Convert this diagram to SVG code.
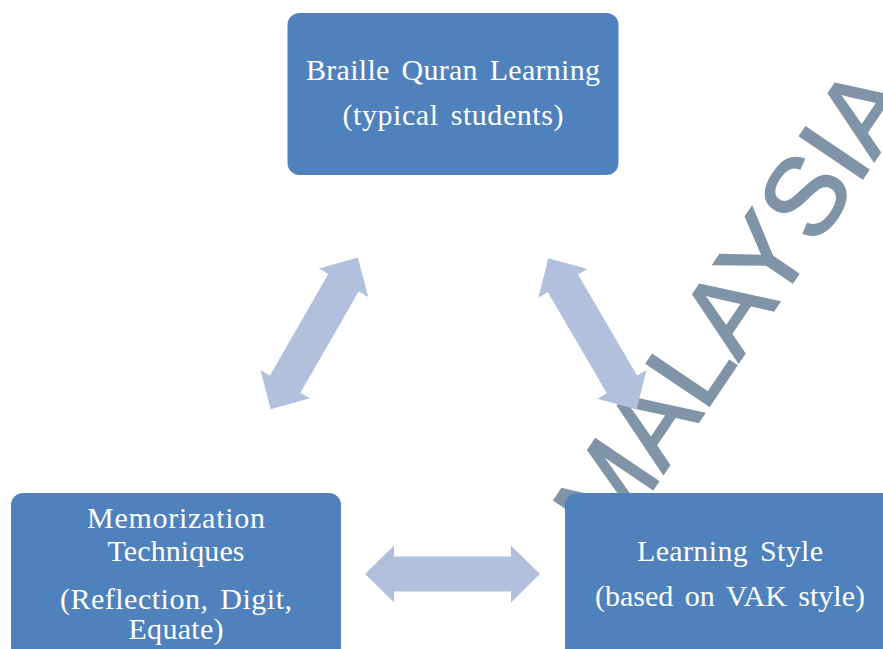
<svg xmlns="http://www.w3.org/2000/svg" width="883" height="649" viewBox="0 0 883 649">
  <style>
    .box { fill: #4f81bd; }
    .lbl { font-family: "Liberation Serif", "Times New Roman", serif; font-size: 30px; fill: #ffffff; text-anchor: middle; word-spacing: 4px; }
    .arrow { fill: #b1c1dd; }
    .wm { font-family: "Liberation Sans", Arial, sans-serif; font-size: 110px; fill: #8094a7; stroke: #8094a7; stroke-width: 2px; }
  </style>
  <defs>
    <polygon id="dblArrow" points="0,0 29,-28.5 29,-17.5 146,-17.5 146,-28.5 175,0 146,28.5 146,17.5 29,17.5 29,28.5"/>
  </defs>
  <rect x="0" y="0" width="883" height="649" fill="#ffffff"/>

  <g id="watermark">
    <text class="wm" transform="translate(612,550) rotate(-56)">MALAYSIA</text>
  </g>

  <g id="connectors">
    <use href="#dblArrow" class="arrow" transform="translate(270.7,409.3) rotate(-60.1)"/>
    <use href="#dblArrow" class="arrow" transform="translate(548.3,258.3) rotate(59.7)"/>
    <use href="#dblArrow" class="arrow" transform="translate(365,574)"/>
  </g>

  <g id="node-braille">
    <rect class="box" x="287.5" y="13" width="331" height="162" rx="12"/>
    <text class="lbl" x="453" y="79.5" textLength="294">Braille Quran Learning</text>
    <text class="lbl" x="453" y="125" textLength="221">(typical students)</text>
  </g>

  <g id="node-memorization">
    <rect class="box" x="11" y="493" width="330" height="175" rx="12"/>
    <text class="lbl" x="176" y="527.5" textLength="178">Memorization</text>
    <text class="lbl" x="176" y="561" textLength="137">Techniques</text>
    <text class="lbl" x="176" y="608.5" textLength="232">(Reflection, Digit,</text>
    <text class="lbl" x="176" y="638.8" textLength="95">Equate)</text>
  </g>

  <g id="node-learning-style">
    <rect class="box" x="565" y="493" width="330" height="175" rx="12"/>
    <text class="lbl" x="730" y="561" textLength="186">Learning Style</text>
    <text class="lbl" x="730" y="606" textLength="270">(based on VAK style)</text>
  </g>
</svg>
